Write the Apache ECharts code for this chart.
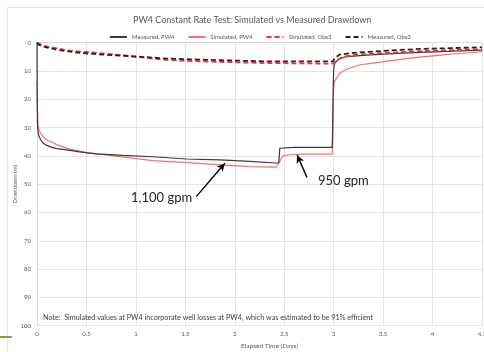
<!DOCTYPE html>
<html>
<head>
<meta charset="utf-8">
<script src="https://cdn.jsdelivr.net/npm/echarts@6/dist/echarts.min.js"></script>
<style>html,body{margin:0;padding:0;background:#fff;}#c{width:484px;height:352px;}</style>
</head>
<body>
<div id="c"></div>
<script>
// ---- data (days, metres of drawdown) ----
var measPW4T = [0, 0.002, 0.005, 0.01, 0.02, 0.04, 0.06, 0.1, 0.15, 0.2, 0.3, 0.43, 0.6, 0.87, 1.17, 1.51, 1.85, 2.15, 2.42, 2.445, 2.45, 2.455, 2.6, 2.8, 2.985, 2.99, 2.995, 3.0, 3.005, 3.015, 3.03, 3.06, 3.13, 3.37, 3.7, 4.21, 4.5];
var measPW4V = [0, 20, 29, 31.5, 33, 34.5, 35.4, 36.3, 37, 37.4, 37.9, 38.6, 39.3, 39.8, 40.3, 41.1, 41.4, 41.9, 42.5, 42.5, 40, 37.3, 37.0, 37.0, 37.0, 30, 16, 9.5, 8, 7, 6.3, 5.6, 4.9, 4.3, 3.7, 3.0, 2.6];

var simPW4T = [0, 0.003, 0.006, 0.01, 0.02, 0.045, 0.095, 0.2, 0.33, 0.53, 0.74, 0.94, 1.17, 1.51, 1.85, 2.15, 2.42, 2.44, 2.47, 2.49, 2.55, 2.7, 2.985, 2.99, 2.995, 3.0, 3.01, 3.03, 3.06, 3.13, 3.27, 3.4, 3.54, 3.74, 3.87, 4.08, 4.21, 4.5];
var simPW4V = [13.6, 20, 25, 29, 31, 32.5, 34.3, 36, 37.6, 39, 39.8, 40.7, 41.7, 42.4, 43.2, 43.8, 44.0, 43.5, 41, 40, 39.6, 39.4, 39.4, 33, 22, 16, 13.5, 12.5, 10.8, 9.4, 7.8, 7.2, 6.5, 5.6, 5.1, 4.4, 4.0, 3.2];

var simObs3T = [0, 0.05, 0.13, 0.33, 0.6, 0.9, 1.31, 1.65, 1.98, 2.32, 2.66, 2.99, 3.0, 3.03, 3.1, 3.2, 3.54, 3.87, 4.21, 4.5];
var simObs3V = [0, 0.8, 1.6, 2.8, 3.6, 4.6, 6.1, 6.6, 6.9, 7.2, 7.3, 7.4, 7.3, 6.2, 5.0, 4.3, 3.6, 3.0, 2.6, 2.3];

var measObs3T = [0, 0.02, 0.06, 0.2, 0.43, 0.67, 0.97, 1.31, 1.65, 1.98, 2.32, 2.66, 2.99, 3.0, 3.02, 3.06, 3.2, 3.54, 3.87, 4.21, 4.5];
var measObs3V = [0, 0.8, 1.3, 2.5, 3.6, 4.2, 4.8, 5.6, 6.0, 6.3, 6.6, 6.6, 6.6, 6.2, 5.2, 4.2, 3.6, 2.8, 2.2, 1.9, 1.6];

var seriesNames = ['Measured, PW4', 'Simulated, PW4', 'Simulated, Obs3', 'Measured, Obs3'];
var titleText = 'PW4 Constant Rate Test: Simulated vs Measured Drawdown';
var xName = 'Elapsed Time (Days)';
var yName = 'Drawdown (m)';
var noteText = 'Note:  Simulated values at PW4 incorporate well losses at PW4, which was estimated to be 91% efficient';
var ann1 = {text: '1,100 gpm', from: [1.61, 54.4], to: [1.9, 42.6]};
var ann2 = {text: '950 gpm', from: [2.73, 47.6], to: [2.63, 39.7]};

function pairs(t, v) { return t.map(function (x, i) { return [x, v[i]]; }); }

var FONT = 'Lato, "Liberation Sans", sans-serif';
var GREY = '#595959';

var chart = echarts.init(document.getElementById('c'), null, {renderer: 'canvas'});
chart.setOption({
  animation: false,
  backgroundColor: '#fff',
  title: {
    text: titleText, left: 128, top: 11,
    textStyle: {fontFamily: FONT, fontSize: 9, fontWeight: 'normal', color: GREY}
  },
  legend: {
    left: 104, top: 29, itemWidth: 17, itemHeight: 6, itemGap: 13,
    textStyle: {fontFamily: FONT, fontSize: 6, color: GREY},
    itemStyle: {opacity: 0},
    data: seriesNames
  },
  grid: {left: 37, right: 2, top: 42.7, bottom: 26.3, containLabel: false, outerBoundsMode: 'none'},
  xAxis: {
    type: 'value', min: 0, max: 4.5, interval: 0.5,
    name: xName, nameLocation: 'middle', nameGap: 17,
    nameTextStyle: {fontFamily: FONT, fontSize: 6.5, color: GREY, padding: [0, 0, 0, 20]},
    axisLine: {lineStyle: {color: '#d9d9d9'}},
    axisTick: {show: false},
    axisLabel: {fontFamily: FONT, fontSize: 6, color: GREY, margin: 5},
    splitLine: {show: true, lineStyle: {color: '#e3e3e3', width: 1}}
  },
  yAxis: {
    type: 'value', min: 0, max: 100, interval: 10, inverse: true,
    name: yName, nameLocation: 'middle', nameGap: 19, nameMoveOverlap: false,
    nameTextStyle: {fontFamily: FONT, fontSize: 6, color: GREY},
    axisLine: {show: true, lineStyle: {color: '#d9d9d9'}},
    axisTick: {show: false},
    axisLabel: {fontFamily: FONT, fontSize: 6, color: GREY, margin: 6},
    splitLine: {show: true, lineStyle: {color: '#e3e3e3', width: 1}}
  },
  series: [
    {name: seriesNames[1], type: 'line', data: pairs(simPW4T, simPW4V), showSymbol: false, symbol: 'none',
     lineStyle: {color: '#ff6b6b', width: 1.2}, itemStyle: {color: '#ff6b6b'}, z: 2},
    {name: seriesNames[0], type: 'line', data: pairs(measPW4T, measPW4V), showSymbol: false, symbol: 'none',
     lineStyle: {color: '#3a3a3a', width: 1.2}, itemStyle: {color: '#3a3a3a'}, z: 3,
     markLine: {
       silent: true, symbol: ['none', 'arrow'], symbolSize: [6, 8],
       label: {show: false},
       lineStyle: {color: '#000', width: 1.4, type: 'solid'},
       data: [
         [{coord: ann1.from}, {coord: ann1.to}],
         [{coord: ann2.from}, {coord: ann2.to}]
       ]
     }},
    {name: seriesNames[2], type: 'line', data: pairs(simObs3T, simObs3V), showSymbol: false, symbol: 'none',
     lineStyle: {color: '#ff2a2a', width: 1.8, type: [5, 3]}, itemStyle: {color: '#ff2a2a'}, z: 4},
    {name: seriesNames[3], type: 'line', data: pairs(measObs3T, measObs3V), showSymbol: false, symbol: 'none',
     lineStyle: {color: '#262626', width: 1.8, type: [5, 3]}, itemStyle: {color: '#262626'}, z: 5}
  ],
  graphic: [
    {type: 'rect', left: 5, top: 5, silent: true, z: -10,
     shape: {width: 490, height: 360}, style: {fill: 'none', stroke: '#e6e6e6', lineWidth: 1}},
    {type: 'line', silent: true, shape: {x1: 0, y1: 337, x2: 12, y2: 337}, style: {stroke: '#70ad47', lineWidth: 2}},
    {type: 'text', left: 43, top: 314, silent: true, z: 100,
     style: {text: noteText, fontFamily: FONT, fontSize: 7.2, fill: '#404040'}},
    {type: 'text', left: 131, top: 191, silent: true, z: 100,
     style: {text: ann1.text, fontFamily: FONT, fontSize: 13, fill: '#262626'}},
    {type: 'text', left: 318, top: 174, silent: true, z: 100,
     style: {text: ann2.text, fontFamily: FONT, fontSize: 13, fill: '#262626'}}
  ]
});
</script>
</body>
</html>
